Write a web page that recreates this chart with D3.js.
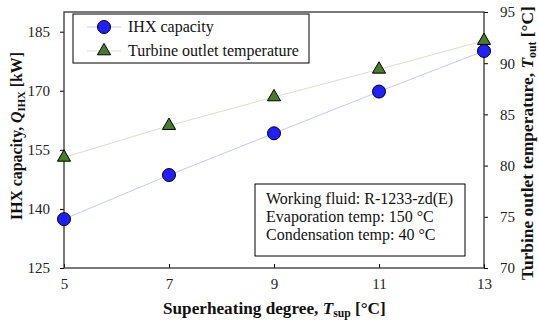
<!DOCTYPE html>
<html>
<head>
<meta charset="utf-8">
<script src="https://cdn.jsdelivr.net/npm/d3@7"></script>
<style>
  body { margin: 0; background: #fff; }
  svg { display: block; font-family: "Liberation Serif", "Times New Roman", serif; }
</style>
</head>
<body>
<svg id="chart" width="539" height="321"></svg>
<script>
/* ─── Data ─────────────────────────────────────────────────────────────── */

const superheat   = [5, 7, 9, 11, 13];
const ihxCapacity = [137.4, 148.6, 159.2, 169.8, 180.1];   // kW
const turbineOut  = [80.8, 83.9, 86.7, 89.4, 92.2];        // °C

const xTicks     = [5, 7, 9, 11, 13];
const leftTicks  = [125, 140, 155, 170, 185];
const rightTicks = [70, 75, 80, 85, 90, 95];

const noteLines = [
  'Working fluid: R-1233-zd(E)',
  'Evaporation temp: 150 \u00B0C',
  'Condensation temp: 40 \u00B0C',
];

/* ─── Layout ───────────────────────────────────────────────────────────── */

const M = { left: 64, right: 484, top: 12, bottom: 268 };
const FONT = '"Liberation Serif", "Times New Roman", serif';
const svg = d3.select('#chart');

const x  = d3.scaleLinear().domain([5, 13]).range([M.left, M.right]);
const yL = d3.scaleLinear().domain([125, 190]).range([M.bottom, M.top]);
const yR = d3.scaleLinear().domain([70, 95]).range([M.bottom, M.top]);

const BLUE = '#1f1fff', GREEN = '#4a7a2a';

/* ─── Axes ─────────────────────────────────────────────────────────────── */

function styleAxis(g) {
  g.attr('font-family', FONT).attr('font-size', 15);
  g.select('.domain').remove();
  g.selectAll('line').attr('stroke', '#000').attr('stroke-width', 1);
  g.selectAll('text').attr('fill', '#222');
}

svg.append('g')
  .attr('transform', `translate(0,${M.bottom})`)
  .call(d3.axisBottom(x).tickValues(xTicks).tickSize(-4).tickPadding(10))
  .call(styleAxis);

svg.append('g')
  .attr('transform', `translate(${M.left},0)`)
  .call(d3.axisLeft(yL).tickValues(leftTicks).tickSize(4).tickPadding(10))
  .call(styleAxis);

svg.append('g')
  .attr('transform', `translate(${M.right},0)`)
  .call(d3.axisRight(yR).tickValues(rightTicks).tickSize(4).tickPadding(12))
  .call(styleAxis);

// frame
svg.append('rect')
  .attr('x', M.left).attr('y', M.top)
  .attr('width', M.right - M.left).attr('height', M.bottom - M.top)
  .attr('fill', 'none').attr('stroke', '#333').attr('stroke-width', 1.3);

/* ─── Axis titles ──────────────────────────────────────────────────────── */

// Bold title with an italic symbol + subscript; the font is scaled so the
// whole string spans `span` pixels, as in the original figure.
function title(sel, main, sym, sub, unit, span) {
  sel.attr('text-anchor', 'start').attr('font-weight', 'bold').attr('fill', '#111');
  const parts = [
    sel.append('tspan').text(main),
    sel.append('tspan').attr('font-style', 'italic').text(sym),
    sel.append('tspan').text(sub),
    sel.append('tspan').text(' ' + unit),
  ];
  const setSize = fs => {
    sel.attr('font-size', fs);
    parts[2].attr('font-size', fs * 0.68).attr('dy', fs * 0.2);
    parts[3].attr('dy', -fs * 0.2);
  };
  setSize(17.5);
  const len = sel.node().getComputedTextLength();
  setSize(17.5 * span / len);
}

title(svg.append('text')
  .attr('transform', `translate(22,220) rotate(-90)`),
  'IHX capacity, ', 'Q', 'IHX', '[kW]', 168);

title(svg.append('text')
  .attr('transform', `translate(533,280) rotate(-90)`),
  'Turbine outlet temperature, ', 'T', 'out', '[\u00B0C]', 274);

title(svg.append('text')
  .attr('x', 163).attr('y', 314),
  'Superheating degree, ', 'T', 'sup', '[\u00B0C]', 223);

/* ─── Series ───────────────────────────────────────────────────────────── */

const ihxPts  = superheat.map((s, i) => [x(s), yL(ihxCapacity[i])]);
const turbPts = superheat.map((s, i) => [x(s), yR(turbineOut[i])]);

svg.append('path').attr('d', d3.line()(turbPts))
  .attr('fill', 'none').attr('stroke', '#dcdfcc').attr('stroke-width', 1);
svg.append('path').attr('d', d3.line()(ihxPts))
  .attr('fill', 'none').attr('stroke', '#c8c8fa').attr('stroke-width', 1);

const tri = d3.symbol().type(d3.symbolTriangle).size(75);

svg.append('g').selectAll('path')
  .data(turbPts).join('path')
  .attr('d', tri)
  .attr('transform', d => `translate(${d[0]},${d[1]})`)
  .attr('fill', GREEN).attr('stroke', '#000').attr('stroke-width', 1);

svg.append('g').selectAll('circle')
  .data(ihxPts).join('circle')
  .attr('cx', d => d[0]).attr('cy', d => d[1]).attr('r', 6.5)
  .attr('fill', BLUE).attr('stroke', '#000').attr('stroke-width', 1);

/* ─── Legend ───────────────────────────────────────────────────────────── */

const legend = svg.append('g');
legend.append('rect')
  .attr('x', 73).attr('y', 14).attr('width', 236).attr('height', 49)
  .attr('fill', '#fff').attr('stroke', '#000').attr('stroke-width', 1);

[
  { label: 'IHX capacity', y: 27, line: '#c8c8fa', kind: 'circle' },
  { label: 'Turbine outlet temperature', y: 51, line: '#dcdfcc', kind: 'tri' },
].forEach(e => {
  legend.append('line').attr('x1', 87).attr('x2', 121).attr('y1', e.y).attr('y2', e.y)
    .attr('stroke', e.line);
  if (e.kind === 'circle') {
    legend.append('circle').attr('cx', 104).attr('cy', e.y).attr('r', 6.5)
      .attr('fill', BLUE).attr('stroke', '#000');
  } else {
    legend.append('path').attr('d', tri).attr('transform', `translate(104,${e.y})`)
      .attr('fill', GREEN).attr('stroke', '#000');
  }
  legend.append('text').attr('x', 128).attr('y', e.y + 5)
    .attr('font-size', 16).attr('fill', '#111').text(e.label);
});

/* ─── Note box ─────────────────────────────────────────────────────────── */

const note = svg.append('g');
note.append('rect')
  .attr('x', 255).attr('y', 184).attr('width', 210).attr('height', 72)
  .attr('fill', '#fff').attr('stroke', '#000').attr('stroke-width', 1);
note.selectAll('text')
  .data(noteLines).join('text')
  .attr('x', 266).attr('y', (d, i) => 204 + i * 18)
  .attr('font-size', 16).attr('fill', '#111').text(d => d);
</script>
</body>
</html>
